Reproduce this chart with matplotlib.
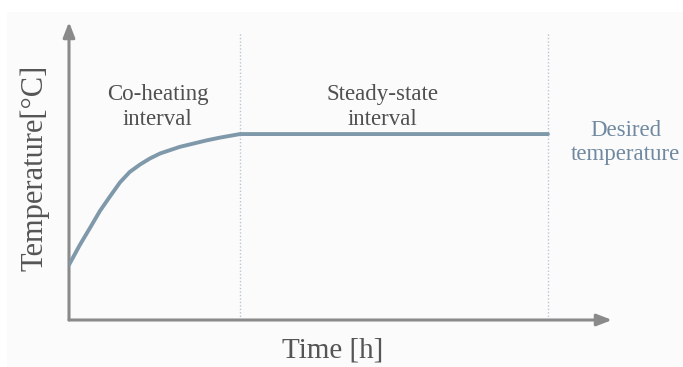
import matplotlib.pyplot as plt
from matplotlib.patches import Rectangle

# curve (arbitrary units: time 0..10, temperature 0..10)
time_h = [0.0, 0.20, 0.39, 0.57, 0.76, 0.94, 1.12, 1.31, 1.49, 1.68, 1.86, 2.04, 2.29,
          2.54, 2.78, 3.15, 8.82]
temp_c = [1.85, 2.52, 3.10, 3.66, 4.16, 4.62, 4.97, 5.22, 5.42, 5.59, 5.70, 5.81, 5.92,
          6.03, 6.12, 6.24, 6.24]

interval_bounds = [3.15, 8.82]
interval_labels = ["Co-heating\ninterval", "Steady-state\ninterval"]
interval_centers = [1.63, 5.78]

plt.rcParams['font.family'] = ['Liberation Serif', 'DejaVu Serif']

fig = plt.figure(figsize=(6.83, 3.67), dpi=100)
fig.patch.set_facecolor('white')
fig.patches.append(Rectangle((7 / 683, 0), 1, 1 - 12 / 367, transform=fig.transFigure,
                             facecolor='#fbfbfb', edgecolor='none', zorder=-5))

x0, y0, x1, y1 = 69, 320, 612, 22
ax = fig.add_axes([x0 / 683, 1 - y0 / 367, (x1 - x0) / 683, (y0 - y1) / 367])
ax.set_zorder(2)
ax.set_xlim(0, 10)
ax.set_ylim(0, 10)
ax.patch.set_alpha(0)
for s in ax.spines.values():
    s.set_visible(False)
ax.set_xticks([])
ax.set_yticks([])

axis_col = '#8a8a8a'
arrow = dict(arrowstyle='-|>,head_length=0.9,head_width=0.35', color=axis_col, lw=2.2,
             shrinkA=0, shrinkB=0)
ax.annotate('', xy=(10, 0), xytext=(0, 0), arrowprops=arrow, annotation_clip=False)
ax.annotate('', xy=(0, 10), xytext=(0, 0), arrowprops=arrow, annotation_clip=False)

for b in interval_bounds:
    ax.plot([b, b], [0, 9.63], color='#b9c6d2', lw=1, ls=(0, (1, 1.5)), zorder=1)

ax.plot(time_h, temp_c, color='#7f99aa', lw=2.8, solid_capstyle='round',
        solid_joinstyle='round', zorder=3)

for cx, lab in zip(interval_centers, interval_labels):
    ax.text(cx, 7.15, lab, ha='center', va='center', fontsize=16.5, color='#505050',
            linespacing=1.2)

ax.text(10.25, 5.95, "Desired\ntemperature", ha='center', va='center', fontsize=16.5,
        color='#7089a0', linespacing=1.2, clip_on=False)

fig.text(35 / 683, 1 - 168 / 367, "Temperature[°C]", rotation=90, ha='center', va='center',
         fontsize=22, color='#555555', zorder=3)
fig.text(333 / 683, 1 - 351 / 367, "Time [h]", ha='center', va='center',
         fontsize=21, color='#555555', zorder=3)

fig.savefig('out.png', dpi=100)
